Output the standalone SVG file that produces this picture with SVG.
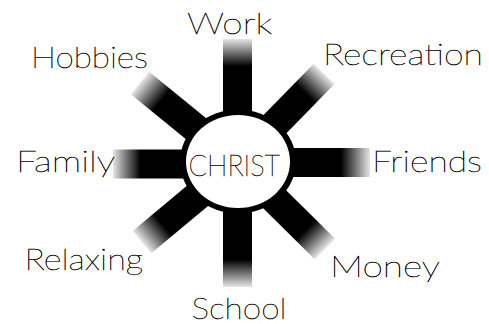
<svg xmlns="http://www.w3.org/2000/svg" width="489" height="324" viewBox="0 0 489 324">
  <defs>
    <linearGradient id="fade" x1="0" y1="0" x2="0" y2="1">
      <stop offset="0" stop-color="#e6e6e6"/>
      <stop offset="0.22" stop-color="#000"/>
      <stop offset="1" stop-color="#000"/>
    </linearGradient>
    <style>
      .lbl { font-family: "Lato", "Liberation Sans", sans-serif; font-weight: 100; font-size: 30px; fill: #000; stroke: #000; stroke-width: 0.4px; }
      .bar { fill: url(#fade); }
    </style>
  </defs>
  <rect width="489" height="324" fill="#fff"/>
  <g id="connectors">
    <rect class="bar" x="-14.5" y="-123.5" width="29" height="123.5" transform="translate(237.5,162.5) rotate(0)"/>
    <rect class="bar" x="-14.5" y="-124" width="29" height="124" transform="translate(237.5,162.5) rotate(44.3)"/>
    <rect class="bar" x="-14.5" y="-132.5" width="29" height="132.5" transform="translate(237.5,162.5) rotate(90)"/>
    <rect class="bar" x="-14.5" y="-123" width="29" height="123" transform="translate(237.5,162.5) rotate(134.7)"/>
    <rect class="bar" x="-14.5" y="-124.5" width="29" height="124.5" transform="translate(237.5,162.5) rotate(180)"/>
    <rect class="bar" x="-14.5" y="-124.3" width="29" height="124.3" transform="translate(237.5,162.5) rotate(230.2)"/>
    <rect class="bar" x="-14.5" y="-124.5" width="29" height="124.5" transform="translate(237.5,164) rotate(270)"/>
    <rect class="bar" x="-14.5" y="-125.8" width="29" height="125.8" transform="translate(237.5,162.5) rotate(309.2)"/>
  </g>
  <g id="christ">
    <ellipse cx="238" cy="161.5" rx="58" ry="52" fill="#000"/>
    <ellipse cx="238" cy="161.5" rx="52" ry="46.5" fill="#fff"/>
    <text class="lbl" x="188.5" y="176" textLength="91.5" lengthAdjust="spacingAndGlyphs">CHRIST</text>
  </g>
  <g id="work"><text class="lbl" x="187" y="34" textLength="85" lengthAdjust="spacingAndGlyphs">Work</text></g>
  <g id="recreation"><text class="lbl" x="323" y="65" textLength="160" lengthAdjust="spacingAndGlyphs">Recreation</text></g>
  <g id="friends"><text class="lbl" x="372" y="171.5" textLength="110" lengthAdjust="spacingAndGlyphs">Friends</text></g>
  <g id="money"><text class="lbl" x="330" y="276.5" textLength="110" lengthAdjust="spacingAndGlyphs">Money</text></g>
  <g id="school"><text class="lbl" x="191.5" y="319" textLength="95" lengthAdjust="spacingAndGlyphs">School</text></g>
  <g id="relaxing"><text class="lbl" x="24.5" y="270" textLength="118.5" lengthAdjust="spacingAndGlyphs">Relaxing</text></g>
  <g id="family"><text class="lbl" x="16" y="171.5" textLength="99" lengthAdjust="spacingAndGlyphs">Family</text></g>
  <g id="hobbies"><text class="lbl" x="31" y="68" textLength="117" lengthAdjust="spacingAndGlyphs">Hobbies</text></g>
</svg>
